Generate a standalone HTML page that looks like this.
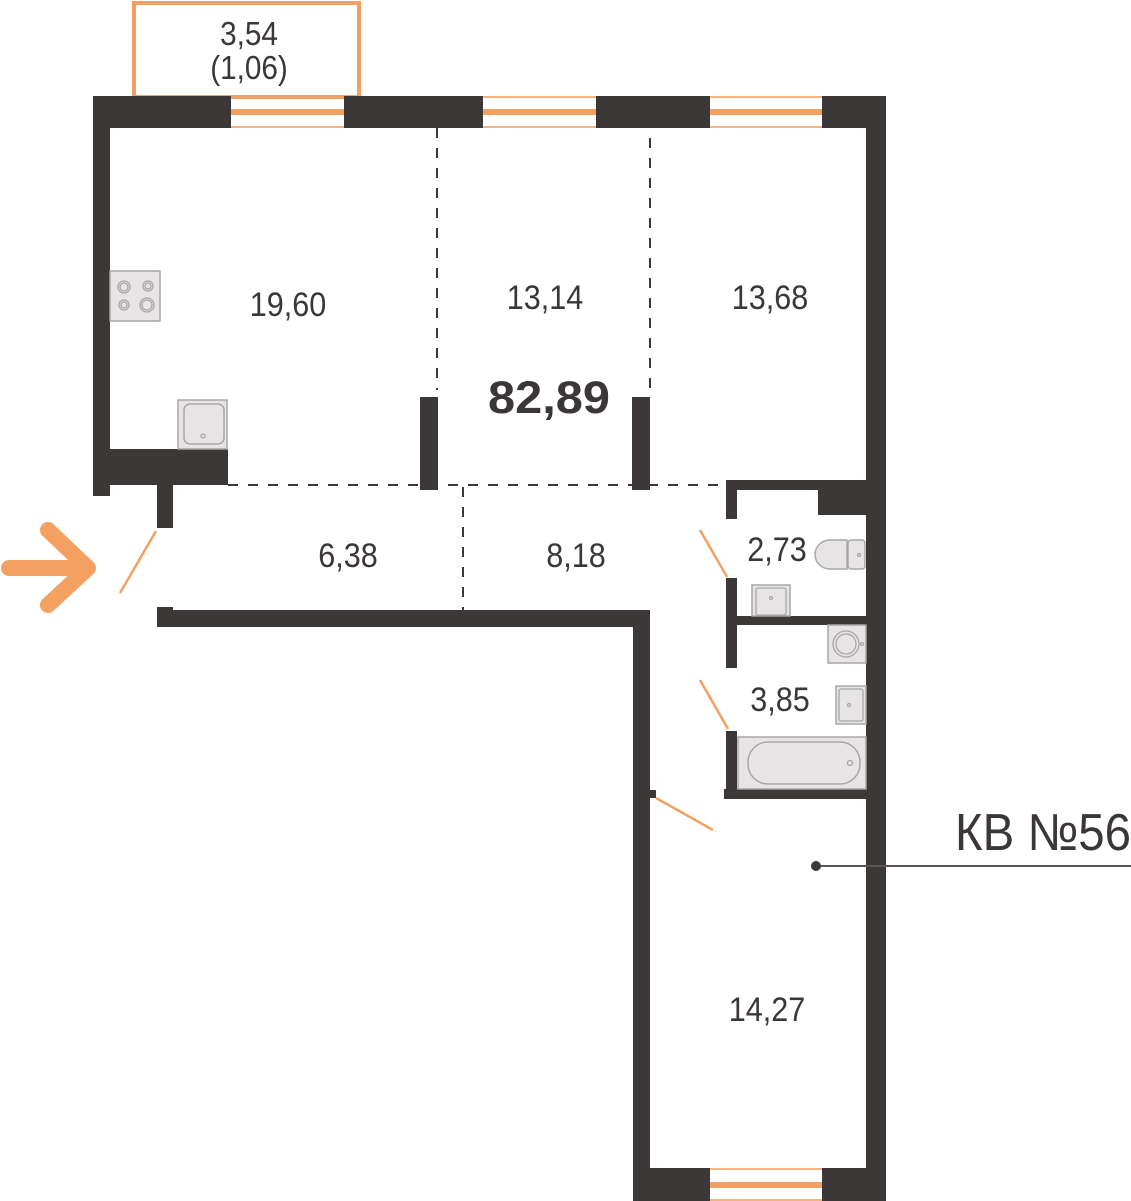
<!DOCTYPE html>
<html><head><meta charset="utf-8"><style>
html,body{margin:0;padding:0;background:#fff;width:1131px;height:1201px;overflow:hidden}
svg{display:block}
text{font-family:"Liberation Sans",sans-serif;fill:#3b3736}
</style></head><body>
<svg width="1131" height="1201" viewBox="0 0 1131 1201" xmlns="http://www.w3.org/2000/svg">
<!-- balcony -->
<rect x="134" y="3" width="225" height="94" fill="none" stroke="#f4a060" stroke-width="4"/>
<text x="249" y="45" font-size="33" text-anchor="middle" transform="translate(249 0) scale(0.9 1) translate(-249 0)">3,54</text>
<text x="249" y="79" font-size="33" text-anchor="middle" transform="translate(249 0) scale(0.9 1) translate(-249 0)">(1,06)</text>

<g fill="#3c3837">
<rect x="93" y="96" width="138" height="32"/>
<rect x="344" y="96" width="139" height="32"/>
<rect x="596" y="96" width="114" height="32"/>
<rect x="822" y="96" width="64" height="32"/>
<rect x="866" y="96" width="20" height="1105"/>
<rect x="93" y="96" width="17" height="400"/>
<rect x="93" y="449" width="135" height="36"/>
<rect x="157" y="485" width="16" height="43"/>
<rect x="157" y="607" width="16" height="20"/>
<rect x="157" y="610" width="493" height="17"/>
<rect x="633" y="610" width="17" height="591"/>
<rect x="633" y="1168" width="77" height="33"/>
<rect x="822" y="1168" width="64" height="33"/>
<rect x="420" y="397" width="18" height="93"/>
<rect x="632" y="397" width="18" height="93"/>
<rect x="726" y="480" width="140" height="10"/>
<rect x="818" y="480" width="48" height="35"/>
<rect x="726" y="480" width="11" height="39"/>
<rect x="726" y="578" width="11" height="90"/>
<rect x="737" y="616" width="129" height="9"/>
<rect x="726" y="731" width="11" height="60"/>
<rect x="724" y="789" width="142" height="10"/>
<rect x="650" y="790" width="6" height="8"/>
</g>

<g fill="#f4a060">
<rect x="231" y="96" width="113" height="2" opacity="0.8"/>
<rect x="231" y="109" width="113" height="6"/>
<rect x="231" y="126" width="113" height="2" opacity="0.8"/>
<rect x="483" y="96" width="113" height="2" opacity="0.8"/>
<rect x="483" y="109" width="113" height="6"/>
<rect x="483" y="126" width="113" height="2" opacity="0.8"/>
<rect x="710" y="96" width="112" height="2" opacity="0.8"/>
<rect x="710" y="109" width="112" height="6"/>
<rect x="710" y="126" width="112" height="2" opacity="0.8"/>
<rect x="710" y="1168" width="112" height="2" opacity="0.8"/>
<rect x="710" y="1182" width="112" height="6"/>
<rect x="710" y="1199" width="112" height="2" opacity="0.8"/>
</g>

<g stroke="#3c3837" stroke-width="2" stroke-dasharray="10 10" fill="none">
<line x1="437" y1="128" x2="437" y2="390"/>
<line x1="650" y1="138" x2="650" y2="395"/>
<line x1="228" y1="485" x2="726" y2="485"/>
<line x1="463" y1="487" x2="463" y2="610"/>
</g>

<g stroke="#f4a060" stroke-width="2.5" fill="none">
<line x1="120" y1="593" x2="156" y2="531"/>
<line x1="700" y1="530" x2="727" y2="577"/>
<line x1="700" y1="680" x2="728" y2="729"/>
<line x1="656" y1="798" x2="713" y2="830"/>
</g>

<g stroke="#f4a060" stroke-width="16" stroke-linecap="round" stroke-linejoin="round" fill="none">
<line x1="9" y1="568" x2="86" y2="568"/>
<polyline points="48,530 88,568 48,605"/>
</g>

<g fill="#e6e4e4" stroke="#a8a6a6" stroke-width="1.5">
<rect x="110" y="271" width="50" height="50"/>
<rect x="178" y="400" width="49" height="49"/>
<rect x="184" y="404" width="40" height="40" rx="6"/>
<rect x="752" y="585" width="38" height="31"/>
<rect x="828" y="625" width="38" height="38"/>
<rect x="836" y="686" width="30" height="38"/>
<rect x="738" y="737" width="128" height="52"/>
<rect x="748" y="742" width="112" height="42" rx="20"/>
<path d="M847 540 L847 569 L830 569 A15 14.5 0 0 1 830 540 Z"/>
<rect x="848" y="540" width="17" height="29" rx="3"/>
</g>
<g fill="none" stroke="#a8a6a6" stroke-width="1.3">
<circle cx="124" cy="287" r="6"/><circle cx="124" cy="287" r="4"/>
<circle cx="148" cy="286" r="5"/><circle cx="148" cy="286" r="3"/>
<circle cx="124" cy="305" r="5"/><circle cx="124" cy="305" r="3"/>
<circle cx="147" cy="305" r="7"/><circle cx="147" cy="305" r="5"/>
<circle cx="203" cy="436" r="2"/>
<rect x="756" y="588" width="30" height="27" rx="2"/>
<circle cx="771" cy="598" r="1.5"/>
<circle cx="846" cy="644" r="13"/><circle cx="846" cy="644" r="10"/>
<circle cx="862" cy="644" r="1.5"/>
<rect x="839" y="689" width="24" height="32" rx="2"/>
<circle cx="849" cy="705" r="1.5"/>
<circle cx="850" cy="763" r="2.5"/>
<circle cx="859" cy="555" r="1.5"/>
</g>

<g font-size="34" text-anchor="middle">
<text x="288" y="316" transform="translate(288 0) scale(0.9 1) translate(-288 0)">19,60</text>
<text x="545" y="309" transform="translate(545 0) scale(0.9 1) translate(-545 0)">13,14</text>
<text x="770" y="309" transform="translate(770 0) scale(0.9 1) translate(-770 0)">13,68</text>
<text x="348" y="567" transform="translate(348 0) scale(0.9 1) translate(-348 0)">6,38</text>
<text x="576" y="567" transform="translate(576 0) scale(0.9 1) translate(-576 0)">8,18</text>
<text x="777" y="561" transform="translate(777 0) scale(0.9 1) translate(-777 0)">2,73</text>
<text x="780" y="711" transform="translate(780 0) scale(0.9 1) translate(-780 0)">3,85</text>
<text x="767" y="1021" transform="translate(767 0) scale(0.9 1) translate(-767 0)">14,27</text>
</g>
<text x="488" y="413" font-size="45" font-weight="bold" textLength="122" lengthAdjust="spacingAndGlyphs">82,89</text>
<text x="955" y="850" font-size="52" textLength="176" lengthAdjust="spacingAndGlyphs">КВ №56</text>
<line x1="816" y1="866" x2="1131" y2="866" stroke="#5a5655" stroke-width="2"/>
<circle cx="816" cy="866" r="5" fill="#3c3837"/>
</svg>
</body></html>
